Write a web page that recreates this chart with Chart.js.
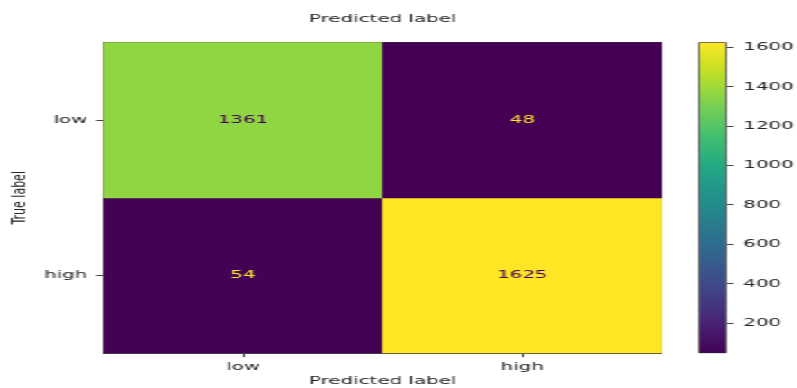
<!DOCTYPE html>
<html>
<head>
<meta charset="utf-8">
<script src="https://cdn.jsdelivr.net/npm/chart.js@4.4.1/dist/chart.umd.min.js"></script>
<style>
  html, body { margin: 0; padding: 0; background: #fff; overflow: hidden; }
  /* figure is laid out narrow, then stretched to fill the 797px frame */
  #fig {
    position: relative;
    width: 443px;
    height: 388px;
    transform: scaleX(1.8);
    transform-origin: 0 0;
  }
  #fig canvas { position: absolute; left: 0; top: 0; }
</style>
</head>
<body>
<div id="fig">
  <canvas id="matrix" width="443" height="388"></canvas>
  <canvas id="colorbar" width="443" height="388"></canvas>
</div>
<script>
// ============================================================
// CONFUSION MATRIX — low / high
// ============================================================

const predLabels = ["low", "high"];
const trueLabels = ["low", "high"];

// counts per true label, columns follow predLabels
const rowLow = [1361, 48];
const rowHigh = [54, 1625];

const colorbarTicks = [200, 400, 600, 800, 1000, 1200, 1400, 1600];

// viridis sampled at 0.0, 0.1, ... 1.0
const viridisStops = [
  "#440154", "#482475", "#414487", "#355f8d", "#2a788e", "#21918c",
  "#22a884", "#44bf70", "#7ad151", "#bddf26", "#fde725"
];

const rows = [rowLow, rowHigh];
const allCounts = rows.flat();
const countMin = Math.min(...allCounts);
const countMax = Math.max(...allCounts);
const textThreshold = (countMin + countMax) / 2;

const FONT = { family: "DejaVu Sans", size: 11 };
const INK = "#222";
const SPINE = { color: "#222", width: 0.85 };
const TICK_LEN = 3.9;

Chart.defaults.font.family = FONT.family;
Chart.defaults.font.size = FONT.size;
Chart.defaults.color = INK;

// ============================================================
// COLOUR HELPERS
// ============================================================

function hexToRgb(hex) {
  const n = parseInt(hex.slice(1), 16);
  return [(n >> 16) & 255, (n >> 8) & 255, n & 255];
}

function viridis(t) {
  const clamped = Math.min(Math.max(t, 0), 1);
  const pos = clamped * (viridisStops.length - 1);
  const i = Math.min(Math.floor(pos), viridisStops.length - 2);
  const f = pos - i;
  const a = hexToRgb(viridisStops[i]);
  const b = hexToRgb(viridisStops[i + 1]);
  const c = a.map((v, k) => Math.round(v + (b[k] - v) * f));
  return `rgb(${c[0]}, ${c[1]}, ${c[2]})`;
}

function countColor(count) {
  return viridis((count - countMin) / (countMax - countMin));
}

// ============================================================
// MATRIX CHART
// ============================================================

// each true-label row is a floating bar spanning one row of the y scale
const matrixDatasets = rows.map((row, r) => ({
  label: trueLabels[r],
  data: row.map(() => [r - 0.5, r + 0.5]),
  counts: row,
  backgroundColor: row.map(countColor),
  borderWidth: 0,
  barPercentage: 1,
  categoryPercentage: 1,
  grouped: false,
  xAxisID: "x",
  yAxisID: "y"
}));

const cellLabelPlugin = {
  id: "cellLabels",
  afterDatasetsDraw(chart) {
    const ctx = chart.ctx;
    ctx.save();
    ctx.font = `${FONT.size}px "${FONT.family}"`;
    ctx.textAlign = "center";
    ctx.textBaseline = "middle";
    chart.data.datasets.forEach((ds, di) => {
      chart.getDatasetMeta(di).data.forEach((bar, i) => {
        const count = ds.counts[i];
        const pt = bar.getCenterPoint();
        ctx.fillStyle = count < textThreshold ? viridis(1) : viridis(0);
        ctx.fillText(String(count), pt.x, pt.y);
      });
    });
    ctx.restore();
  }
};

const tickGrid = {
  drawOnChartArea: false,
  drawTicks: true,
  tickLength: TICK_LEN,
  color: INK,
  lineWidth: 0.85
};

new Chart(document.getElementById("matrix"), {
  type: "bar",
  data: {
    labels: predLabels,
    datasets: matrixDatasets
  },
  options: {
    responsive: false,
    animation: false,
    events: [],
    layout: {
      padding: { left: 0, top: 0, right: 443 - 367.9, bottom: 0 }
    },
    plugins: {
      legend: { display: false },
      tooltip: { enabled: false }
    },
    scales: {
      x: {
        type: "category",
        position: "bottom",
        offset: true,
        grid: { ...tickGrid, offset: false },
        border: SPINE,
        ticks: { color: INK, padding: 3.3 },
        title: {
          display: true,
          text: "Predicted label",
          color: INK,
          padding: { top: 0, bottom: 0 }
        },
        afterFit(scale) {
          scale.height = 388 - 353.3;
        }
      },
      xTop: {
        type: "category",
        position: "top",
        offset: true,
        grid: { display: false },
        border: SPINE,
        ticks: { display: false },
        title: {
          display: true,
          text: "Predicted label",
          color: INK,
          padding: { top: 13, bottom: 0 }
        },
        afterFit(scale) {
          scale.height = 42.3;
        }
      },
      y: {
        type: "linear",
        position: "left",
        min: -0.5,
        max: 1.5,
        reverse: true,
        grid: tickGrid,
        border: SPINE,
        afterBuildTicks(scale) {
          scale.ticks = trueLabels.map((_, i) => ({ value: i }));
        },
        ticks: {
          color: INK,
          padding: 5,
          callback: value => trueLabels[value]
        },
        title: {
          display: true,
          text: "True label",
          color: INK,
          padding: { top: 4.2, bottom: 0 }
        },
        afterFit(scale) {
          scale.width = 57.4;
        }
      },
      yRight: {
        type: "linear",
        position: "right",
        min: -0.5,
        max: 1.5,
        grid: { display: false },
        border: SPINE,
        ticks: { display: false },
        afterFit(scale) {
          scale.width = 0;
        }
      }
    }
  },
  plugins: [cellLabelPlugin]
});

// ============================================================
// COLORBAR
// ============================================================

function colorbarFill(context) {
  const chart = context.chart;
  if (!chart.chartArea) return viridis(0.5);
  const yScale = chart.scales.y;
  const grad = chart.ctx.createLinearGradient(
    0, yScale.getPixelForValue(countMin),
    0, yScale.getPixelForValue(countMax)
  );
  viridisStops.forEach((c, i) => grad.addColorStop(i / (viridisStops.length - 1), c));
  return grad;
}

new Chart(document.getElementById("colorbar"), {
  type: "bar",
  data: {
    labels: [""],
    datasets: [{
      data: [[countMin, countMax]],
      backgroundColor: colorbarFill,
      borderColor: SPINE.color,
      borderWidth: SPINE.width,
      borderSkipped: false,
      barPercentage: 1,
      categoryPercentage: 1
    }]
  },
  options: {
    responsive: false,
    animation: false,
    events: [],
    layout: {
      padding: { left: 388.3, top: 42.3, right: 0, bottom: 388 - 353.3 }
    },
    plugins: {
      legend: { display: false },
      tooltip: { enabled: false }
    },
    scales: {
      x: { display: false },
      y: {
        type: "linear",
        position: "right",
        min: countMin,
        max: countMax,
        grid: tickGrid,
        border: { display: false },
        afterBuildTicks(scale) {
          scale.ticks = colorbarTicks.map(v => ({ value: v }));
        },
        ticks: {
          color: INK,
          padding: 5.3,
          callback: value => String(value)
        },
        afterFit(scale) {
          scale.width = 443 - 403.7;
        }
      }
    }
  }
});
</script>
</body>
</html>
